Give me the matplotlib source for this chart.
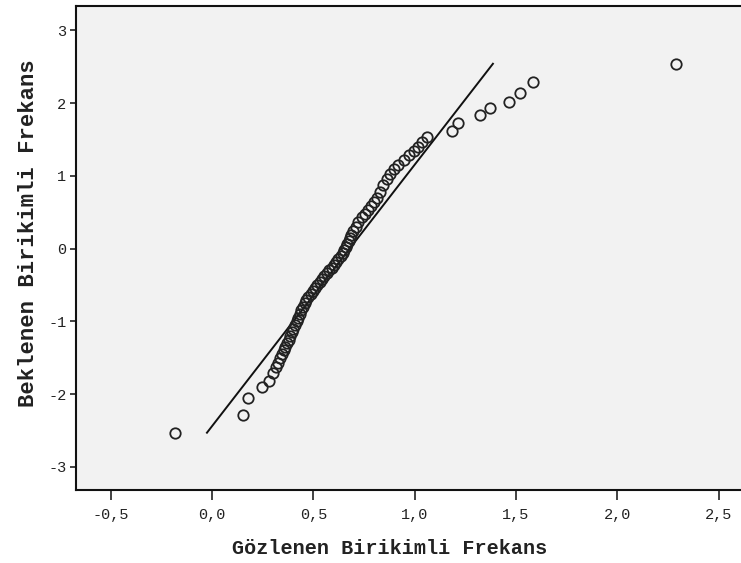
import numpy as np
import matplotlib
matplotlib.use('Agg')
import matplotlib.pyplot as plt

obs = [-0.183, 0.153, 0.178, 0.247, 0.281, 0.301, 0.316, 0.326, 0.336, 0.345,
       0.353, 0.362, 0.370, 0.378, 0.386, 0.394, 0.402, 0.410, 0.418, 0.426,
       0.434, 0.441, 0.449, 0.457, 0.466, 0.476, 0.487, 0.498, 0.509, 0.520,
       0.531, 0.543, 0.554, 0.566, 0.578, 0.590, 0.602, 0.613, 0.624, 0.634,
       0.644, 0.652, 0.660, 0.667, 0.674,
       0.681, 0.688, 0.696, 0.708, 0.720, 0.740, 0.755, 0.770, 0.785, 0.800,
       0.814, 0.829, 0.845, 0.863, 0.880, 0.897, 0.920, 0.945, 0.970, 0.995,
       1.016, 1.036, 1.061, 1.184, 1.214, 1.322, 1.371, 1.465, 1.519, 1.584,
       2.289]
expected = [-2.53, -2.29, -2.05, -1.90, -1.82, -1.71, -1.63, -1.57, -1.51, -1.45,
            -1.40, -1.35, -1.30, -1.25, -1.20, -1.15, -1.10, -1.05, -1.00, -0.95,
            -0.90, -0.85, -0.80, -0.75, -0.70, -0.66, -0.62, -0.58, -0.54, -0.50,
            -0.46, -0.42, -0.38, -0.34, -0.30, -0.26, -0.22, -0.18, -0.14, -0.10,
            -0.06, -0.02, 0.02, 0.06, 0.10,
            0.14, 0.19, 0.24, 0.30, 0.36, 0.43, 0.48, 0.53, 0.58, 0.64,
            0.70, 0.78, 0.87, 0.96, 1.03, 1.09, 1.15, 1.22, 1.28, 1.34,
            1.39, 1.46, 1.53, 1.61, 1.72, 1.83, 1.93, 2.01, 2.14, 2.29,
            2.53]

# reference normal line
line_x = [-0.025, 1.386]
line_y = [-2.53, 2.54]

xticks = [-0.5, 0.0, 0.5, 1.0, 1.5, 2.0, 2.5]
xtick_labels = ['-0,5', '0,0', '0,5', '1,0', '1,5', '2,0', '2,5']
yticks = [-3, -2, -1, 0, 1, 2, 3]
ytick_labels = ['-3', '-2', '-1', '0', '1', '2', '3']

fig = plt.figure(figsize=(7.41, 5.63), dpi=100)
ax = fig.add_axes([0.1026, 0.1297, 0.8974, 0.8593])
ax.set_facecolor('#f2f2f2')

ax.plot(line_x, line_y, color='#111111', lw=1.4, zorder=2)
ax.plot(obs, expected, 'o', mfc='none', mec='#222222', mew=1.3, ms=7.5, zorder=3)

ax.set_xlim(-0.671, 2.610)
ax.set_ylim(-3.317, 3.331)
ax.set_xticks(xticks)
ax.set_xticklabels(xtick_labels)
ax.set_yticks(yticks)
ax.set_yticklabels(ytick_labels)

for s in ['top', 'left', 'bottom']:
    ax.spines[s].set_linewidth(1.5)
    ax.spines[s].set_color('#111111')
ax.spines['right'].set_visible(False)

ax.tick_params(axis='x', direction='out', length=7, width=1.2, pad=6,
               labelsize=11, colors='#222222')
ax.tick_params(axis='y', direction='out', length=4, width=1.2, pad=3,
               labelsize=11, colors='#222222')
for lab in ax.get_xticklabels() + ax.get_yticklabels():
    lab.set_family('Liberation Mono')

ax.set_xlabel('Gözlenen Birikimli Frekans', family='Liberation Mono',
              fontweight='bold', fontsize=14.5, color='#222222', va='center')
ax.set_ylabel('Beklenen Birikimli Frekans', family='Liberation Mono',
              fontweight='bold', fontsize=16, color='#222222', va='center')
ax.xaxis.set_label_coords(0.472, -0.12)
ax.yaxis.set_label_coords(-0.072, 0.531)

fig.savefig('out.png', dpi=100)
